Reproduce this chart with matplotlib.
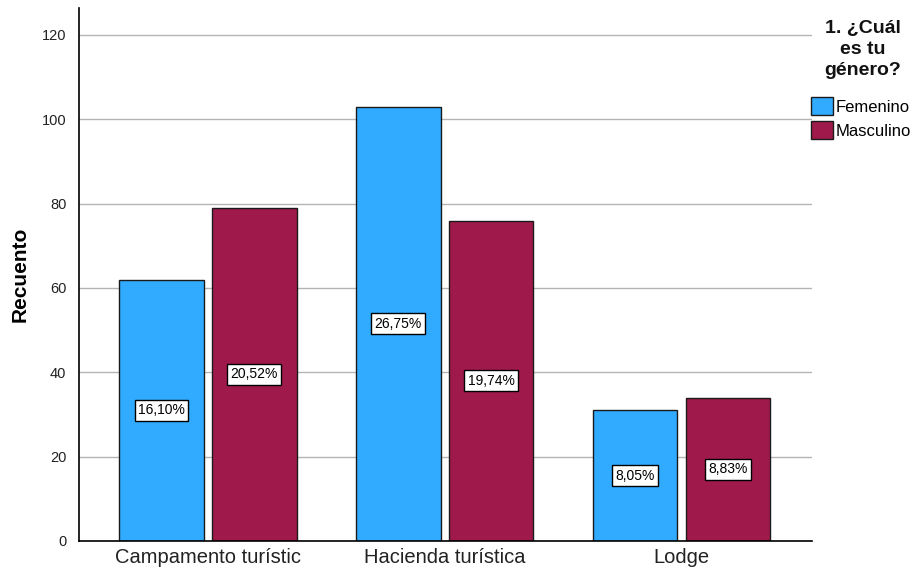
import numpy as np
import matplotlib.pyplot as plt
from matplotlib.patches import Patch

plt.rcParams['font.family'] = ['Liberation Sans', 'DejaVu Sans']

categories = ["Campamento turístic", "Hacienda turística", "Lodge"]
femenino = [62, 103, 31]
masculino = [79, 76, 34]
pct_femenino = ["16,10%", "26,75%", "8,05%"]
pct_masculino = ["20,52%", "19,74%", "8,83%"]

blue = "#31abff"
maroon = "#a0194b"

fig = plt.figure(figsize=(9.1, 5.75), dpi=100)
ax = fig.add_axes([79 / 910, 34 / 575, 733 / 910, 533 / 575])

x = np.arange(len(categories))
width = 0.358
gap = 0.034
off = width / 2 + gap / 2

ax.set_axisbelow(True)
ax.yaxis.grid(True, color="#b4b4b4", linewidth=1)
bars_f = ax.bar(x - off, femenino, width, color=blue, edgecolor="#1a1a1a", linewidth=1)
bars_m = ax.bar(x + off, masculino, width, color=maroon, edgecolor="#1a1a1a", linewidth=1)

box = dict(boxstyle="square,pad=0.25", facecolor="white", edgecolor="black", linewidth=1)
for bars, labels in ((bars_f, pct_femenino), (bars_m, pct_masculino)):
    for b, lab in zip(bars, labels):
        ax.text(b.get_x() + b.get_width() / 2, b.get_height() / 2, lab,
                ha="center", va="center", fontsize=10, bbox=box)

ax.set_xlim(-0.544, 2.551)
ax.set_ylim(0, 126.4)
ax.set_yticks([0, 20, 40, 60, 80, 100, 120])
ax.set_xticks(x)
ax.set_xticklabels(categories, fontsize=14.5, color="#222222")
ax.tick_params(axis="y", labelsize=10.5, length=0, pad=9, colors="#222222")
ax.tick_params(axis="x", length=0, pad=5)
ax.set_ylabel("Recuento", fontsize=15, fontweight="bold", labelpad=9)

for side in ("top", "right"):
    ax.spines[side].set_visible(False)
ax.spines["left"].set_linewidth(1.2)
ax.spines["bottom"].set_linewidth(1.2)

# legend title drawn on its own so the spacing can be set freely
fig.text(863 / 910, 1 - 20 / 575, "1. ¿Cuál\nes tu\ngénero?", ha="center", va="top",
         fontsize=14, fontweight="bold", linespacing=1.3, color="#111111")

handles = [Patch(facecolor=blue, edgecolor="#1a1a1a"),
           Patch(facecolor=maroon, edgecolor="#1a1a1a")]
fig.legend(handles, ["Femenino", "Masculino"],
           loc="upper left", bbox_to_anchor=(811 / 910, 1 - 97 / 575),
           frameon=False, fontsize=12, handlelength=1.3, handleheight=1.3,
           handletextpad=0.15, labelspacing=0.35, borderaxespad=0, borderpad=0)

fig.savefig("out.png", dpi=100)
